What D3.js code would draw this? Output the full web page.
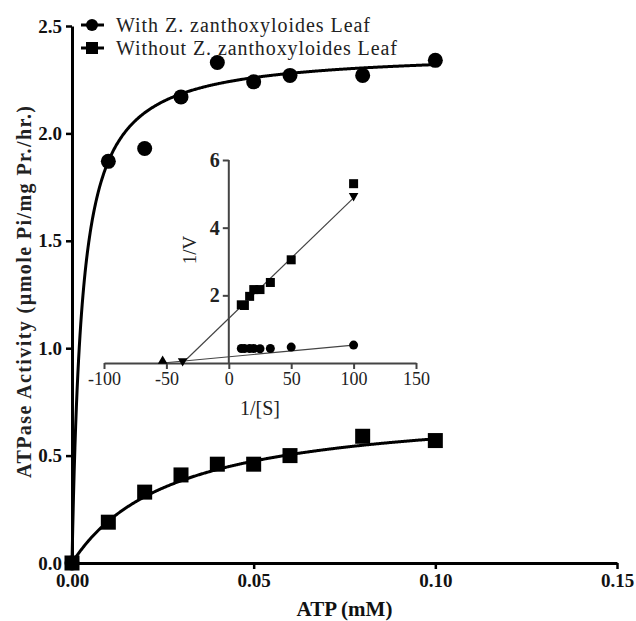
<!DOCTYPE html>
<html>
<head>
<meta charset="utf-8">
<script src="https://cdnjs.cloudflare.com/ajax/libs/d3/7.8.5/d3.min.js"></script>
<style>
body{margin:0;background:#fff}
svg{font-family:"Liberation Serif","Times New Roman",serif}
</style>
</head>
<body>
<svg width="636" height="621"></svg>
<script>
// main plot : ATP (mM) vs activity
var atp = [0, 0.01, 0.02, 0.03, 0.04, 0.05, 0.06, 0.08, 0.10];
var withLeaf = [0, 1.87, 1.93, 2.17, 2.33, 2.24, 2.27, 2.27, 2.34];
var withoutLeaf = [0, 0.19, 0.33, 0.41, 0.46, 0.46, 0.50, 0.59, 0.57];
// michaelis-menten fit, parameters
var fitWith = {vmax: 2.384, km: 0.00275};
var fitWithout = {vmax: 0.74, km: 0.028};

var xTicks = [0, 0.05, 0.10, 0.15];
var yTicks = [0, 0.5, 1.0, 1.5, 2.0, 2.5];
var legendNames = ["With Z. zanthoxyloides Leaf", "Without Z. zanthoxyloides Leaf"];

// inset : lineweaver-burk
var invS = [10, 12.5, 16.7, 20, 25, 33.3, 50, 100];
var invWith = [0.43, 0.43, 0.43, 0.43, 0.42, 0.43, 0.47, 0.53];
var invWithout = [1.72, 1.70, 1.97, 2.17, 2.17, 2.38, 3.05, 5.30];
var lineWith = [[-53, 0], [100, 0.53]];
var lineWithout = [[-37, 0], [100, 4.88]];
var insetXTicks = [-100, -50, 0, 50, 100, 150];
var insetYTicks = [2, 4, 6];

var svg = d3.select("svg");

var x = d3.scaleLinear().domain([0, 0.15]).range([72, 617]);
var y = d3.scaleLinear().domain([0, 2.5]).range([563, 26]);

var ix = d3.scaleLinear().domain([-100, 150]).range([104, 416]);
var iy = d3.scaleLinear().domain([0, 6]).range([363, 160]);

/* === axes principaux === */

var gx = svg.append("g")
  .attr("transform", "translate(0," + y(0) + ")")
  .call(d3.axisBottom(x).tickValues(xTicks).tickFormat(d3.format(".2f")).tickSize(6).tickSizeOuter(0).tickPadding(5));
var gy = svg.append("g")
  .attr("transform", "translate(" + x(0) + ",0)")
  .call(d3.axisLeft(y).tickValues(yTicks).tickFormat(d3.format(".1f")).tickSize(6).tickSizeOuter(0).tickPadding(4));

[gx, gy].forEach(function(g){
  g.select(".domain").attr("stroke", "#000").attr("stroke-width", 3);
  g.selectAll(".tick line").attr("stroke", "#000").attr("stroke-width", 2.5);
  g.selectAll(".tick text").attr("fill", "#111")
    .style("font-family", '"Liberation Serif", serif')
    .style("font-size", "19px").style("font-weight", "bold");
});

svg.append("text")
  .attr("x", (x(0) + x(0.15)) / 2).attr("y", 616)
  .attr("text-anchor", "middle")
  .style("font-size", "21px").style("font-weight", "bold").attr("fill", "#111")
  .text("ATP (mM)");

svg.append("text")
  .attr("transform", "translate(31,292) rotate(-90)")
  .attr("text-anchor", "middle")
  .attr("textLength", 372).attr("lengthAdjust", "spacing")
  .style("font-size", "20px").style("font-weight", "bold").attr("fill", "#222")
  .text("ATPase Activity (\u00b5mole Pi/mg Pr./hr.)");

/* === courbes ajustées === */

function mm(p){
  return function(s){ return p.vmax * s / (p.km + s); };
}
var grid = d3.range(0, 0.1, 0.0002).concat([0.1]);
var curve = d3.line().x(function(d){ return x(d[0]); }).y(function(d){ return y(d[1]); });

[fitWith, fitWithout].forEach(function(p){
  var f = mm(p);
  svg.append("path")
    .attr("d", curve(grid.map(function(s){ return [s, f(s)]; })))
    .attr("fill", "none").attr("stroke", "#000").attr("stroke-width", 3);
});

// points
svg.selectAll(".pt-with").data(atp).enter().append("circle")
  .attr("cx", function(d){ return x(d); })
  .attr("cy", function(d, i){ return y(withLeaf[i]); })
  .attr("r", 7.5).attr("fill", "#000");

svg.selectAll(".pt-without").data(atp).enter().append("rect")
  .attr("x", function(d){ return x(d) - 7.5; })
  .attr("y", function(d, i){ return y(withoutLeaf[i]) - 7.5; })
  .attr("width", 15).attr("height", 15).attr("fill", "#000");

/* === légende === */

var leg = svg.append("g");
legendNames.forEach(function(name, i){
  var ly = 25 + i * 23;
  leg.append("line").attr("x1", 81).attr("x2", 104).attr("y1", ly).attr("y2", ly)
    .attr("stroke", "#000").attr("stroke-width", 3);
  if (i == 0) {
    leg.append("circle").attr("cx", 92).attr("cy", ly).attr("r", 6).attr("fill", "#000");
  } else {
    leg.append("rect").attr("x", 86).attr("y", ly - 6).attr("width", 12).attr("height", 12).attr("fill", "#000");
  }
  leg.append("text").attr("x", 116).attr("y", ly + 7)
    .attr("textLength", i == 0 ? 254 : 281).attr("lengthAdjust", "spacing")
    .style("font-size", "20px").attr("fill", "#222")
    .text(name);
});

/* === encart === */

var inset = svg.append("g");
var plain = function(d){ return String(d); };  // hyphen minus, no decimals

var igx = inset.append("g")
  .attr("transform", "translate(0," + iy(0) + ")")
  .call(d3.axisBottom(ix).tickValues(insetXTicks).tickFormat(plain).tickSize(6).tickSizeOuter(0).tickPadding(3));
var igy = inset.append("g")
  .attr("transform", "translate(" + ix(0) + ",0)")
  .call(d3.axisLeft(iy).tickValues(insetYTicks).tickFormat(plain).tickSize(6).tickSizeOuter(0).tickPadding(3));
// y axis line reaches down to 0
igy.select(".domain").attr("d", "M0," + iy(6) + "V" + iy(0));

[igx, igy].forEach(function(g){
  g.select(".domain").attr("stroke", "#444").attr("stroke-width", 2);
  g.selectAll(".tick line").attr("stroke", "#444").attr("stroke-width", 2);
  g.selectAll(".tick text").attr("fill", "#222")
    .style("font-family", '"Liberation Serif", serif').style("font-size", "18px");
});
igy.selectAll(".tick text").style("font-weight", "bold").style("font-size", "20px");

inset.append("text")
  .attr("transform", "translate(196,250) rotate(-90)")
  .attr("text-anchor", "middle")
  .style("font-size", "19px").attr("fill", "#222")
  .text("1/V");

inset.append("text")
  .attr("x", (ix(-100) + ix(150)) / 2).attr("y", 415)
  .attr("text-anchor", "middle")
  .style("font-size", "20px").attr("fill", "#222")
  .text("1/[S]");

var iline = d3.line().x(function(d){ return ix(d[0]); }).y(function(d){ return iy(d[1]); });
[lineWith, lineWithout].forEach(function(l){
  inset.append("path").attr("d", iline(l))
    .attr("fill", "none").attr("stroke", "#444").attr("stroke-width", 1.2);
});

inset.selectAll(".ic").data(invS).enter().append("circle")
  .attr("cx", function(d){ return ix(d); })
  .attr("cy", function(d, i){ return iy(invWith[i]); })
  .attr("r", 4.5).attr("fill", "#000");

inset.selectAll(".is").data(invS).enter().append("rect")
  .attr("x", function(d){ return ix(d) - 4.5; })
  .attr("y", function(d, i){ return iy(invWithout[i]) - 4.5; })
  .attr("width", 9).attr("height", 9).attr("fill", "#000");

// triangles at the line ends
var tri = d3.symbol().type(d3.symbolTriangle).size(40);
inset.append("path").attr("d", tri())
  .attr("transform", "translate(" + ix(lineWith[0][0]) + "," + (iy(lineWith[0][1]) - 2) + ")");
[lineWithout[0], lineWithout[1]].forEach(function(p){
  inset.append("path").attr("d", tri())
    .attr("transform", "translate(" + ix(p[0]) + "," + (iy(p[1]) - 2) + ") rotate(180)");
});
</script>
</body>
</html>
